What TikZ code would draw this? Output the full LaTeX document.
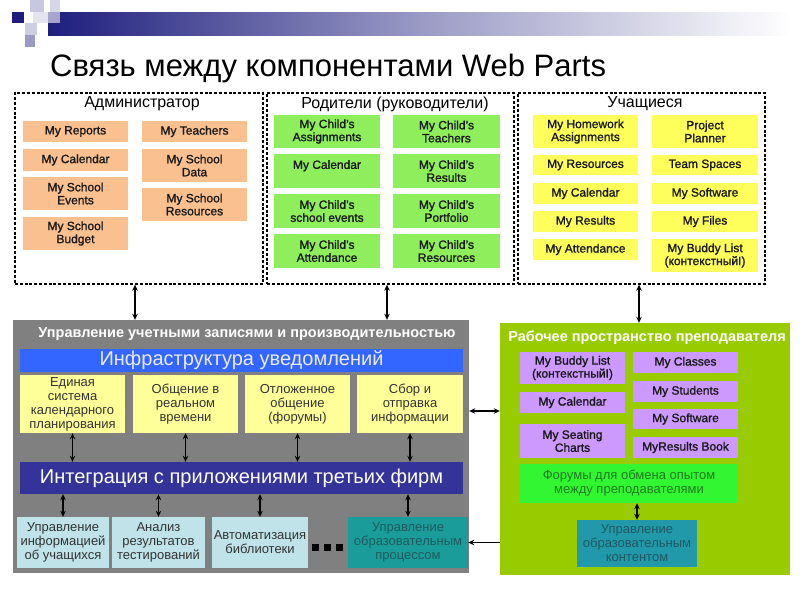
\documentclass[tikz,border=0pt]{standalone}
\usepackage{fontspec}
\setmainfont{Liberation Sans}
\newfontfamily\medfont{Liberation Sans}[FakeBold=1.3]
\usetikzlibrary{arrows.meta}
\definecolor{navy}{HTML}{1E1E7E}
\definecolor{orng}{HTML}{FAC08F}
\definecolor{pgreen}{HTML}{8FEE5C}
\definecolor{syellow}{HTML}{FFFF5C}
\definecolor{graybg}{HTML}{808080}
\definecolor{bluebar}{HTML}{3366FF}
\definecolor{lyellow}{HTML}{FFFF99}
\definecolor{indigo}{HTML}{333399}
\definecolor{lcyan}{HTML}{BFE3E8}
\definecolor{teal1}{HTML}{1A9C9A}
\definecolor{teal2}{HTML}{2299AA}
\definecolor{wsgreen}{HTML}{99CC00}
\definecolor{lav}{HTML}{CC99FF}
\definecolor{forum}{HTML}{33F633}
\definecolor{darkteal}{HTML}{1E5A5E}
\definecolor{dkgreen}{HTML}{1E7B1E}
\newcommand\fs[2]{\fontsize{#1}{#2}\selectfont}
\newcommand\bx[7]{\node[#6, minimum width={(#4-#2)*1pt}, minimum height={(#5-#3)*1pt}] (#1) at ({(#2+#4)/2},{(#3+#5)/2}) {#7};}
\tikzset{
  box/.style={inner sep=1pt, align=center, text=black!90, font=\medfont\fs{12}{13}},
  obox/.style={box, fill=orng},
  gbox/.style={box, fill=pgreen},
  ybox/.style={box, fill=syellow},
  pbox/.style={box, fill=lav},
  dbox/.style={draw=black, dash pattern=on 3pt off 1.8pt, line width=1.3pt, inner sep=0pt},
  hdr/.style={font=\fs{16}{16}, text=black},
  ly/.style={inner sep=1pt, align=center, fill=lyellow, text=black!80, font=\fs{13}{14}},
  cy/.style={inner sep=1pt, align=center, fill=lcyan, text=black!80, font=\fs{13}{14}},
  dbl/.style={line width=1.3pt, {Stealth[length=6pt,width=5.5pt]}-{Stealth[length=6pt,width=5.5pt]}},
  sgl/.style={line width=1.3pt, -{Stealth[length=6pt,width=5.5pt]}},
}
\begin{document}
\begin{tikzpicture}[x=1pt,y=-1pt]
\useasboundingbox (0,0) rectangle (800,600);
\fill[white] (0,0) rectangle (800,600);
% header decoration
\shade[left color=navy, right color=white, middle color=navy!45] (48,12) rectangle (792,35);
\fill[navy] (12,12) rectangle (24,23);
\fill[navy!25] (30,0) rectangle (44,12);
\fill[navy!18] (50,0) rectangle (60,12);
\fill[navy!12] (33,12) rectangle (48,23);
\fill[navy!40] (48,12) rectangle (60,23);
\fill[navy!22] (25,23) rectangle (37,35);
\fill[navy!45] (25,35) rectangle (35,47);
\node[anchor=base west, font=\fs{31}{31}, inner sep=0pt] (title) at (50,76) {Связь между компонентами Web Parts};

% dashed role boxes
\bx{admin}{15}{93}{263}{284}{dbox}{}
\bx{parents}{267}{93}{514}{284}{dbox}{}
\bx{students}{518}{93}{765}{284}{dbox}{}
\node[hdr] (hadmin) at (142,104) {Администратор};
\node[hdr] (hparents) at (395,104) {Родители (руководители)};
\node[hdr] (hstudents) at (645,104) {Учащиеся};

% admin boxes
\bx{a1}{23}{121}{128}{142}{obox}{My Reports}
\bx{a2}{23}{149}{128}{171}{obox}{My Calendar}
\bx{a3}{23}{177}{128}{210}{obox}{My School\\Events}
\bx{a4}{23}{217}{128}{250}{obox}{My School\\Budget}
\bx{a5}{142}{121}{247}{142}{obox}{My Teachers}
\bx{a6}{142}{149}{247}{182}{obox}{My School\\Data}
\bx{a7}{142}{188}{247}{221}{obox}{My School\\Resources}

% parents boxes
\bx{p1}{274}{115}{380}{148}{gbox}{My Child’s\\Assignments}
\bx{p2}{274}{154}{380}{188}{gbox}{My Calendar\\\mbox{}}
\bx{p3}{274}{194}{380}{228}{gbox}{My Child’s\\school events}
\bx{p4}{274}{234}{380}{268}{gbox}{My Child’s\\Attendance}
\bx{p5}{393}{115}{500}{148}{gbox}{My Child’s\\Teachers}
\bx{p6}{393}{154}{500}{188}{gbox}{My Child’s\\Results}
\bx{p7}{393}{194}{500}{228}{gbox}{My Child’s\\Portfolio}
\bx{p8}{393}{234}{500}{268}{gbox}{My Child’s\\Resources}

% students boxes
\bx{s1}{533}{115}{638}{148}{ybox}{My Homework\\Assignments}
\bx{s2}{533}{155}{638}{175}{ybox}{My Resources}
\bx{s3}{533}{183}{638}{204}{ybox}{My Calendar}
\bx{s4}{533}{211}{638}{232}{ybox}{My Results}
\bx{s5}{533}{239}{638}{260}{ybox}{My Attendance}
\bx{s6}{652}{115}{758}{148}{ybox}{Project\\Planner}
\bx{s7}{652}{155}{758}{175}{ybox}{Team Spaces}
\bx{s8}{652}{183}{758}{204}{ybox}{My Software}
\bx{s9}{652}{211}{758}{232}{ybox}{My Files}
\bx{s10}{652}{239}{758}{272}{ybox}{My Buddy List\\(контекстныйI)}

% gray block
\bx{gray}{13}{320}{469}{573}{fill=graybg, inner sep=0pt}{}
\node[font=\bfseries\fs{14.5}{14.5}, text=white] (gtitle) at (247,334) {Управление учетными записями и производительностью};
\bx{notif}{20}{349}{463}{372}{fill=bluebar, inner sep=0pt, font=\fs{20}{20}, text=blue!8}{Инфраструктура уведомлений}
\bx{y1}{20}{375}{125}{433}{ly}{Единая\\система\\календарного\\планирования}
\bx{y2}{133}{375}{238}{433}{ly}{Общение в\\реальном\\времени}
\bx{y3}{245}{375}{350}{433}{ly}{Отложенное\\общение\\(форумы)}
\bx{y4}{357}{375}{463}{433}{ly}{Сбор и\\отправка\\информации}
\bx{integ}{20}{462}{463}{494}{fill=indigo, inner sep=0pt, font=\fs{20}{20}, text=white}{Интеграция с приложениями третьих фирм}
\bx{c1}{17}{517}{109}{568}{cy}{Управление\\информацией\\об учащихся}
\bx{c2}{112}{517}{205}{568}{cy}{Анализ\\результатов\\тестирований}
\bx{c3}{212}{517}{308}{568}{cy}{Автоматизация\\библиотеки}
\bx{c4}{348}{517}{468}{568}{cy, fill=teal1, text=darkteal}{Управление\\образовательным\\процессом}
\fill[black] (312,544) rectangle (319,551);
\fill[black] (324,544) rectangle (331,551);
\fill[black] (336,544) rectangle (343,551);

% teacher workspace
\bx{green}{500}{323}{790}{575}{fill=wsgreen, inner sep=0pt}{}
\node[font=\bfseries\fs{14.5}{14.5}, text=white] (wtitle) at (647,338) {Рабочее пространство преподавателя};
\bx{t1}{520}{352}{625}{384}{pbox}{My Buddy List\\(контекстныйI)}
\bx{t2}{520}{392}{625}{413}{pbox}{My Calendar}
\bx{t3}{520}{424}{625}{458}{pbox}{My Seating\\Charts}
\bx{t4}{633}{352}{738}{373}{pbox}{My Classes}
\bx{t5}{633}{381}{738}{402}{pbox}{My Students}
\bx{t6}{633}{409}{738}{429}{pbox}{My Software}
\bx{t7}{633}{437}{738}{458}{pbox}{MyResults Book}
\bx{forum}{520}{464}{738}{503}{cy, fill=forum, text=dkgreen}{Форумы для обмена опытом\\между преподавателями}
\bx{content}{577}{520}{697}{567}{cy, fill=teal2, text=darkteal}{Управление\\образовательным\\контентом}

% connectors
\coordinate (xa) at (135,0);
\coordinate (xp) at (387,0);
\coordinate (xs) at (639,0);
\coordinate (yh) at (0,411);
\draw[dbl] (admin.south -| xa) -- (gray.north -| xa);
\draw[dbl] (parents.south -| xp) -- (gray.north -| xp);
\draw[dbl] (students.south -| xs) -- (green.north -| xs);
\foreach \n in {y1,y2,y3,y4} \draw[dbl] (\n.south) -- (integ.north -| \n.south);
\foreach \n in {c1,c2,c3,c4} \draw[dbl] (integ.south -| \n.north) -- (\n.north);
\draw[dbl] (gray.east |- yh) -- (green.west |- yh);
\draw[sgl] (green.west |- c4.east) -- (c4.east);
\draw[dbl] (forum.south -| content.north) -- (content.north);
\end{tikzpicture}
\end{document}
